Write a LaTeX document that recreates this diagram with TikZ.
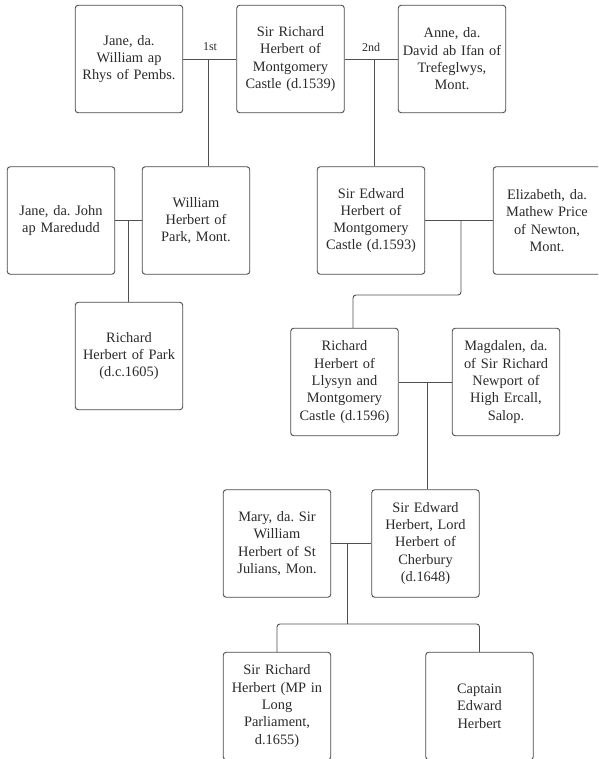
\documentclass[tikz,border=0pt]{standalone}
\usepackage{fontspec}
\setmainfont{Liberation Serif}
\frenchspacing
\definecolor{boxline}{HTML}{4A4A4A}
\definecolor{conline}{HTML}{505050}
\definecolor{txt}{HTML}{2A2A2A}
\tikzset{
  person/.style={draw=boxline, line width=0.9pt, rounded corners=3pt, minimum width=107.5pt, minimum height=107.5pt,
    inner sep=0pt, text width=100pt, align=center, text=txt,
    font=\fontsize{14.4pt}{17.3pt}\selectfont},
  conn/.style={draw=conline, line width=0.9pt},
  ordlabel/.style={font=\fontsize{12pt}{13pt}\selectfont, text=txt, inner sep=0pt}
}
\begin{document}
\begin{tikzpicture}[x=1pt,y=-1pt]
\useasboundingbox (0,0) rectangle (598,759);
\clip (0,0) rectangle (598,759);
% row 1
\node[person] (jr) at (129,59) {Jane, da.\\William ap\\Rhys of Pembs.};
\node[person] (sr) at (290.5,59) {Sir Richard\\Herbert of\\Montgomery\\Castle (d.1539)};
\node[person] (an) at (452,59) {Anne, da.\\David ab Ifan of\\Trefeglwys,\\Mont.};
% row 2
\node[person] (jj) at (61,220.5) {Jane, da. John\\ap Maredudd};
\node[person] (wh) at (196,220.5) {William\\Herbert of\\Park, Mont.};
\node[person] (se) at (371,220.5) {Sir Edward\\Herbert of\\Montgomery\\Castle (d.1593)};
\node[person] (el) at (547,220.5) {Elizabeth, da.\\Mathew Price\\of Newton,\\Mont.};
% row 3
\node[person] (rp) at (129,356) {Richard\\Herbert of Park\\(d.c.1605)};
\node[person] (rl) at (344.5,382) {Richard\\Herbert of\\Llysyn and\\Montgomery\\Castle (d.1596)};
\node[person] (ma) at (506,382) {Magdalen, da.\\of Sir Richard\\Newport of\\High Ercall,\\Salop.};
% row 4
\node[person] (mr) at (277,543.5) {Mary, da. Sir\\William\\Herbert of St\\Julians, Mon.};
\node[person] (sl) at (425.5,543.5) {Sir Edward\\Herbert, Lord\\Herbert of\\Cherbury\\(d.1648)};
% row 5
\node[person] (sm) at (277,706) {Sir Richard\\Herbert (MP in\\Long\\Parliament,\\d.1655)};
\node[person] (ce) at (479.5,706) {Captain\\Edward\\Herbert};
% connectors
\coordinate (m1) at (208,59);
\coordinate (m2) at (374,59);
\coordinate (m3) at (128,221);
\coordinate (m4) at (461,221);
\coordinate (m5) at (427,382);
\coordinate (m6) at (347,543);
\draw[conn] (jr.east) -- (sr.west);
\draw[conn] (m1) -- (m1 |- wh.north);
\node[ordlabel] (l1) at (210,47) {1st};
\draw[conn] (sr.east) -- (an.west);
\draw[conn] (m2) -- (m2 |- se.north);
\node[ordlabel] (l2) at (371,47) {2nd};
\draw[conn] (jj.east) -- (wh.west);
\draw[conn] (m3) -- (m3 |- rp.north);
\draw[conn] (se.east) -- (el.west);
\coordinate (k4) at (353,295);
\draw[conn, rounded corners=3pt] (m4) -- (m4 |- k4) -- (k4) -- (k4 |- rl.north);
\draw[conn] (rl.east) -- (ma.west);
\draw[conn] (m5) -- (m5 |- sl.north);
\draw[conn] (mr.east) -- (sl.west);
\coordinate (k6) at (347,624);
\draw[conn] (m6) -- (k6);
\draw[conn, rounded corners=3pt] (k6) -- (sm.north |- k6) -- (sm.north);
\draw[conn, rounded corners=3pt] (k6) -- (ce.north |- k6) -- (ce.north);
\end{tikzpicture}
\end{document}
